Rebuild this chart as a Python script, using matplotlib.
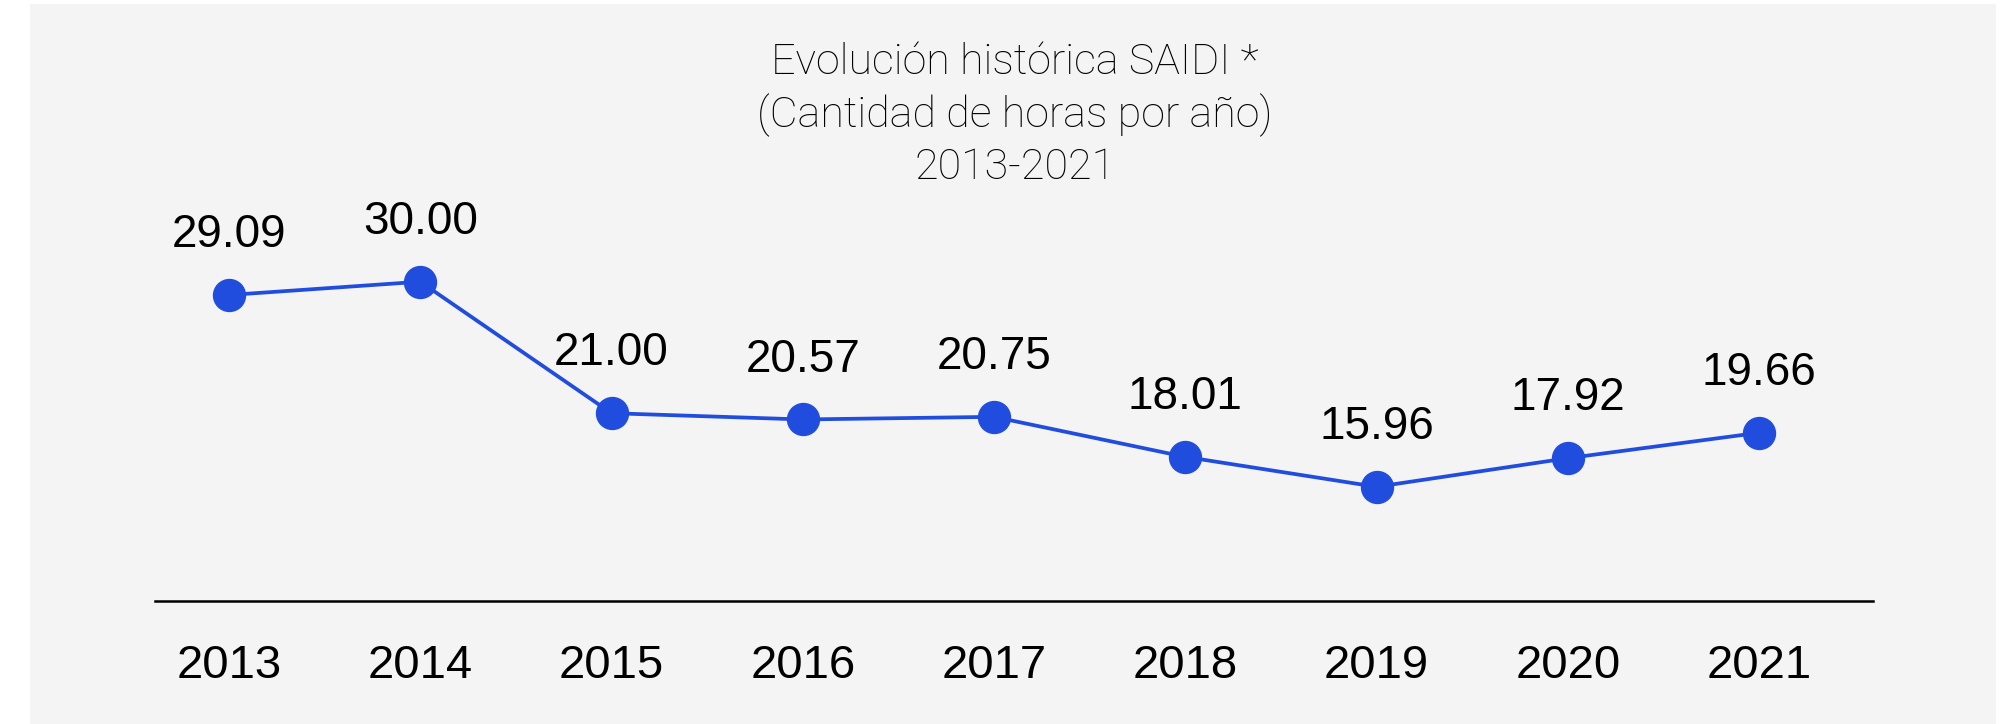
import matplotlib
matplotlib.use("Agg")
import matplotlib.pyplot as plt
from matplotlib.patches import Rectangle

# Datos SAIDI (horas por año)
anios = ["2013", "2014", "2015", "2016", "2017", "2018", "2019", "2020", "2021"]
saidi = [29.09, 30.00, 21.00, 20.57, 20.75, 18.01, 15.96, 17.92, 19.66]
etiquetas = ["29.09", "30.00", "21.00", "20.57", "20.75", "18.01", "15.96", "17.92", "19.66"]

titulo = "Evolución histórica SAIDI *\n(Cantidad de horas por año)\n2013-2021"

azul = "#214ddf"
gris = "#f4f4f4"

plt.rcParams["font.family"] = ["Liberation Sans", "DejaVu Sans"]

fig = plt.figure(figsize=(20.04, 7.24), dpi=100)
fig.patch.set_facecolor("white")
# fondo gris del panel
fig.patches.append(Rectangle((30 / 2004, 0), 1966 / 2004, 720 / 724,
                             transform=fig.transFigure, facecolor=gris,
                             edgecolor="none", zorder=-5))

ax = fig.add_axes([155 / 2004, 0.17, 1718 / 2004, 0.5539])
ax.set_facecolor("none")
ax.set_zorder(2)

x = list(range(len(anios)))
ax.plot(x, saidi, color=azul, linewidth=2.7, marker="o", markersize=23,
        markerfacecolor=azul, markeredgecolor=azul, zorder=3, clip_on=False)

for xi, yi, txt in zip(x, saidi, etiquetas):
    ax.annotate(txt, (xi, yi), xytext=(0, 43), textcoords="offset points",
                ha="center", va="center", fontsize=33, color="black")

ax.set_xlim(-0.387, 8.596)
ax.set_ylim(8.15, 35.6)
ax.set_xticks(x)
ax.set_xticklabels(anios, fontsize=34)
ax.tick_params(axis="x", length=0, pad=31)
ax.set_yticks([])
for s in ["top", "right", "left"]:
    ax.spines[s].set_visible(False)
ax.spines["bottom"].set_linewidth(1.8)
ax.spines["bottom"].set_color("black")

fig.text(1015 / 2004, 1 - 115 / 724, titulo, ha="center", va="center",
         fontsize=31, family=["Roboto", "DejaVu Sans"], fontweight="light",
         linespacing=1.3, color="black")

fig.savefig("out.png", dpi=100)
